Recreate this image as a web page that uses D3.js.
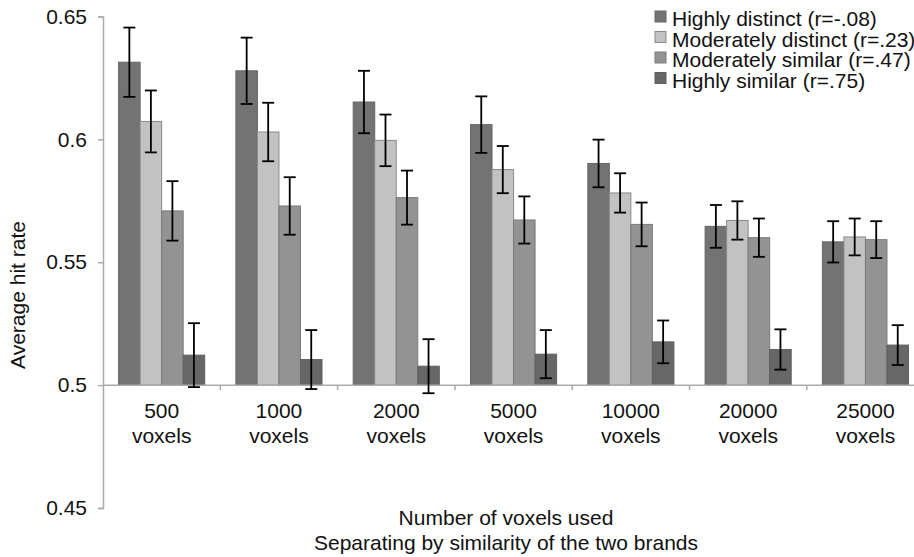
<!DOCTYPE html>
<html>
<head>
<meta charset="utf-8">
<script src="https://cdn.jsdelivr.net/npm/d3@7"></script>
<style>
body { margin: 0; background: #fff; }
text { font-family: "Liberation Sans", Arial, Helvetica, sans-serif; fill: #111; }
</style>
</head>
<body>
<script>
// data
var categories = ["500", "1000", "2000", "5000", "10000", "20000", "25000"];
var seriesNames = ["Highly distinct (r=-.08)", "Moderately distinct (r=.23)", "Moderately similar (r=.47)", "Highly similar (r=.75)"];
var highlyDistinct   = [0.6314, 0.6279, 0.6152, 0.6060, 0.5902, 0.5646, 0.5583];
var modDistinct      = [0.6073, 0.6030, 0.5996, 0.5877, 0.5782, 0.5670, 0.5603];
var modSimilar       = [0.5709, 0.5729, 0.5763, 0.5672, 0.5654, 0.5600, 0.5592];
var highlySimilar    = [0.5122, 0.5104, 0.5077, 0.5126, 0.5176, 0.5145, 0.5163];
var errHighlyDistinct = [0.0141, 0.0135, 0.0127, 0.0115, 0.0097, 0.0087, 0.0084];
var errModDistinct    = [0.0126, 0.0119, 0.0105, 0.0096, 0.0080, 0.0078, 0.0075];
var errModSimilar     = [0.0121, 0.0117, 0.0110, 0.0096, 0.0089, 0.0078, 0.0075];
var errHighlySimilar  = [0.0130, 0.0120, 0.0110, 0.0098, 0.0087, 0.0082, 0.0081];
var yTicks = [0.45, 0.5, 0.55, 0.6, 0.65];

var fills   = ["#737373", "#c2c2c2", "#939393", "#676767"];
var strokes = ["#666666", "#8a8a8a", "#7a7a7a", "#606060"];

var values = [highlyDistinct, modDistinct, modSimilar, highlySimilar];
var errors = [errHighlyDistinct, errModDistinct, errModSimilar, errHighlySimilar];

var W = 914, H = 557;
var plotLeft = 103, plotTop = 16.5, plotBottom = 508;
var band = 117.3;
var fontSize = "21px";

var svg = d3.select("body").append("svg")
    .attr("width", W)
    .attr("height", H);

var y = d3.scaleLinear().domain([0.45, 0.65]).range([plotBottom, plotTop]);
var x = d3.scaleBand().domain(categories).range([plotLeft, plotLeft + band * categories.length]);
var xs = d3.scaleBand().domain(d3.range(4)).range([15.6, band - 15.6]);

// one row per bar
var rows = [];
categories.forEach(function(c, i) {
    for (var s = 0; s < 4; s++) {
        rows.push({cat: c, s: s, v: values[s][i], e: errors[s][i]});
    }
});

// bars
svg.append("g").selectAll("rect")
    .data(rows)
    .enter().append("rect")
        .attr("x", function(d) { return x(d.cat) + xs(d.s); })
        .attr("y", function(d) { return y(d.v); })
        .attr("width", xs.bandwidth())
        .attr("height", function(d) { return y(0.5) - y(d.v); })
        .attr("fill", function(d) { return fills[d.s]; })
        .attr("stroke", function(d) { return strokes[d.s]; })
        .attr("stroke-width", 1);

// y axis
var yAxis = svg.append("g")
    .attr("transform", "translate(" + plotLeft + ",0)")
    .call(d3.axisLeft(y).tickValues(yTicks).tickSize(5).tickPadding(11)
        .tickFormat(function(d) { return String(+d.toFixed(2)); }));
yAxis.select(".domain").attr("stroke", "#ababab").attr("stroke-width", 1.5);
yAxis.selectAll(".tick line").attr("stroke", "#ababab").attr("stroke-width", 1.5);
yAxis.selectAll(".tick text").style("font-size", fontSize).attr("fill", "#111")
    .style("font-family", "'Liberation Sans', Arial, sans-serif");

// x axis line at 0.5, ticks between categories
var xg = svg.append("g");
xg.append("line")
    .attr("x1", plotLeft).attr("x2", plotLeft + band * categories.length)
    .attr("y1", y(0.5)).attr("y2", y(0.5))
    .attr("stroke", "#ababab").attr("stroke-width", 1.5);
xg.selectAll("line.tk")
    .data(categories.slice(1))
    .enter().append("line")
        .attr("class", "tk")
        .attr("x1", function(d) { return x(d); })
        .attr("x2", function(d) { return x(d); })
        .attr("y1", y(0.5)).attr("y2", y(0.5) + 5)
        .attr("stroke", "#ababab").attr("stroke-width", 1.5);

// category labels
var lab = xg.selectAll("text")
    .data(categories)
    .enter().append("text")
        .attr("text-anchor", "middle")
        .style("font-size", fontSize);
lab.append("tspan")
    .attr("x", function(d) { return x(d) + x.bandwidth() / 2; })
    .attr("y", 418)
    .text(function(d) { return d; });
lab.append("tspan")
    .attr("x", function(d) { return x(d) + x.bandwidth() / 2; })
    .attr("y", 443)
    .text("voxels");

// error bars
var eb = svg.append("g").attr("stroke", "#000").attr("stroke-width", 1.8);
rows.forEach(function(d) {
    var cx = x(d.cat) + xs(d.s) + xs.bandwidth() / 2;
    eb.append("line").attr("x1", cx).attr("x2", cx).attr("y1", y(d.v + d.e)).attr("y2", y(d.v - d.e));
    eb.append("line").attr("x1", cx - 6).attr("x2", cx + 6).attr("y1", y(d.v + d.e)).attr("y2", y(d.v + d.e));
    eb.append("line").attr("x1", cx - 6).attr("x2", cx + 6).attr("y1", y(d.v - d.e)).attr("y2", y(d.v - d.e));
});

// axis titles
svg.append("text")
    .attr("transform", "translate(25,295) rotate(-90)")
    .attr("text-anchor", "middle")
    .style("font-size", fontSize)
    .text("Average hit rate");
svg.append("text")
    .attr("x", 506).attr("y", 525)
    .attr("text-anchor", "middle")
    .style("font-size", fontSize)
    .text("Number of voxels used");
svg.append("text")
    .attr("x", 506).attr("y", 550)
    .attr("text-anchor", "middle")
    .style("font-size", fontSize)
    .text("Separating by similarity of the two brands");

// legend
var leg = svg.append("g").selectAll("g")
    .data(seriesNames)
    .enter().append("g")
        .attr("transform", function(d, i) { return "translate(655," + (11 + i * 20.5) + ")"; });
leg.append("rect")
    .attr("width", 11).attr("height", 11)
    .attr("fill", function(d, i) { return fills[i]; })
    .attr("stroke", function(d, i) { return strokes[i]; });
leg.append("text")
    .attr("x", 17).attr("y", 15)
    .style("font-size", fontSize)
    .text(function(d) { return d; });
</script>
</body>
</html>
